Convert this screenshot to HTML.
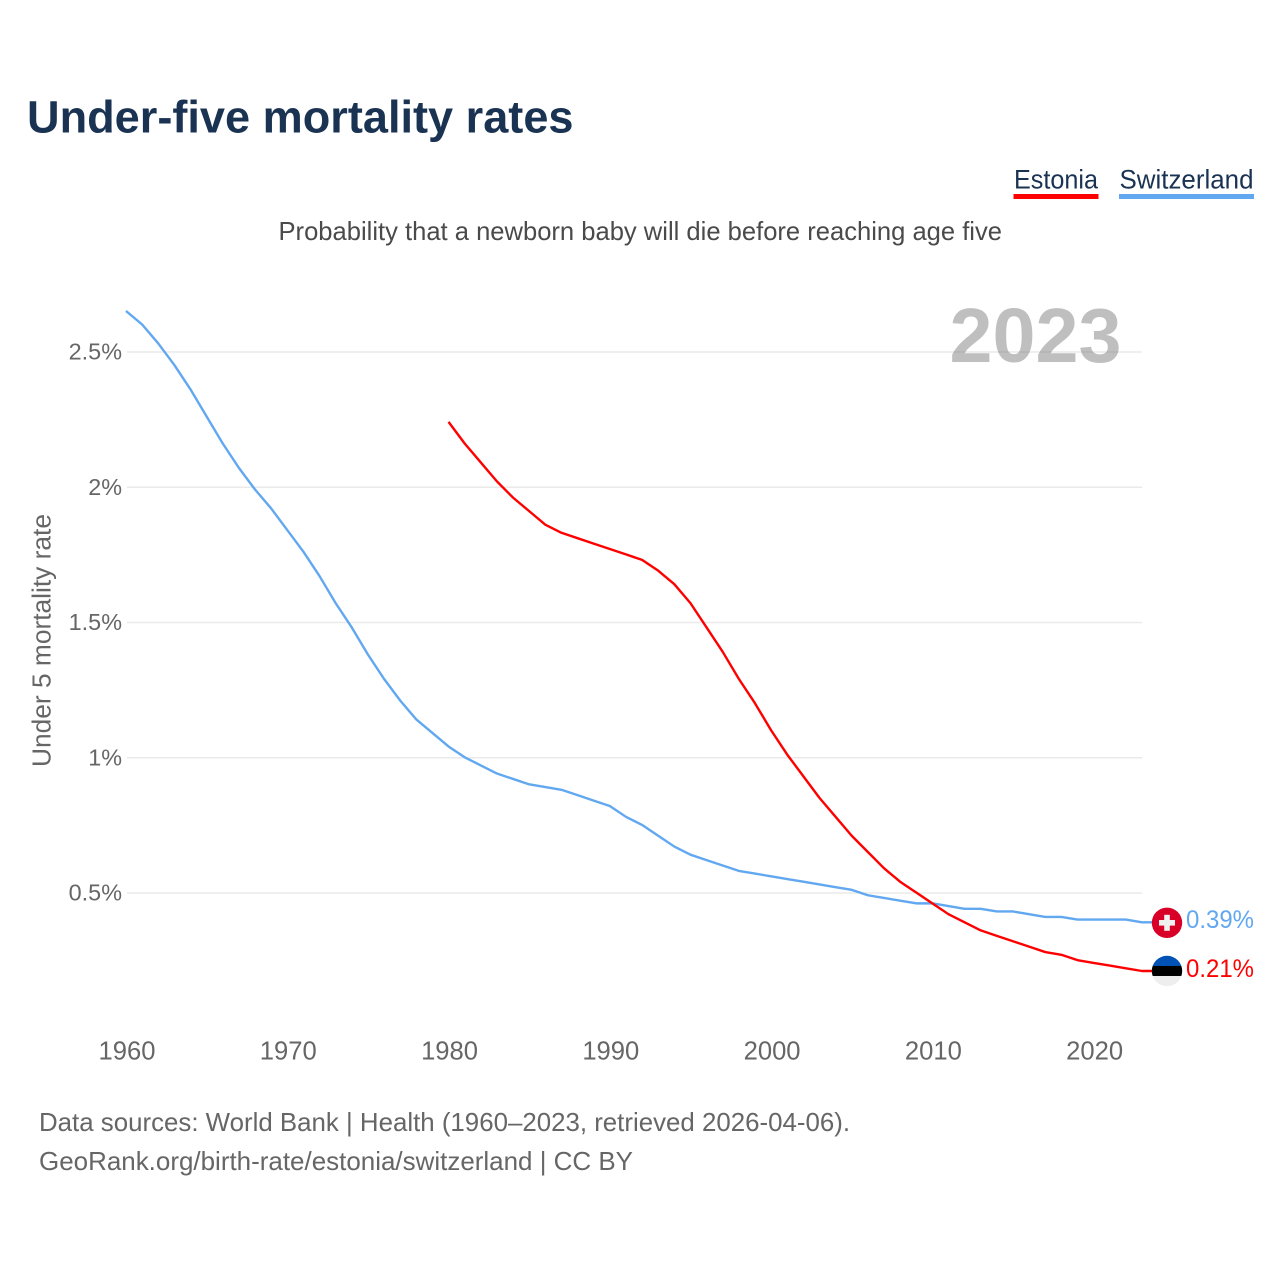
<!DOCTYPE html>
<html lang="en">
<head>
<meta charset="utf-8">
<title>Under-five mortality rates</title>
<style>
html,body{margin:0;padding:0;background:#fff;width:1280px;height:1280px;overflow:hidden}
svg{display:block}
text{font-family:"Liberation Sans",sans-serif}
</style>
</head>
<body>
<svg id="chart" xmlns="http://www.w3.org/2000/svg" width="1280" height="1280" viewBox="0 0 1280 1280">
  <rect width="1280" height="1280" fill="#fff"/>
  <text x="27" y="132.5" font-size="45" font-weight="700" fill="#1a3352" textLength="546.5" lengthAdjust="spacingAndGlyphs">Under-five mortality rates</text>

  <g>
    <text x="1014" y="188.3" font-size="26.5" fill="#1a3352" textLength="84" lengthAdjust="spacingAndGlyphs">Estonia</text>
    <rect x="1013.5" y="194" width="85" height="5" fill="#ff0000"/>
  </g>
  <g>
    <text x="1119.5" y="188.3" font-size="26.5" fill="#1a3352" textLength="134" lengthAdjust="spacingAndGlyphs">Switzerland</text>
    <rect x="1119" y="194" width="135" height="5" fill="#62a8f0"/>
  </g>

  <text x="278.5" y="240.2" font-size="26" fill="#4a4a4a" textLength="723.5" lengthAdjust="spacingAndGlyphs">Probability that a newborn baby will die before reaching age five</text>

  <g id="grid"></g>
  <text x="949.5" y="362" font-size="77.3" font-weight="700" fill="#666" fill-opacity="0.42">2023</text>

  <g id="y-axis"></g>
  <g id="x-axis"></g>
  <text transform="translate(50.5,767) rotate(-90)" x="0" y="0" font-size="25.5" fill="#666" textLength="253" lengthAdjust="spacingAndGlyphs">Under 5 mortality rate</text>

  <g id="series"></g>
  <g id="end-markers"></g>

  <text x="39" y="1131.2" font-size="26" fill="#666" textLength="811" lengthAdjust="spacingAndGlyphs">Data sources: World Bank | Health (1960–2023, retrieved 2026-04-06).</text>
  <text x="39" y="1170.2" font-size="26" fill="#666" textLength="594" lengthAdjust="spacingAndGlyphs">GeoRank.org/birth-rate/estonia/switzerland | CC BY</text>
</svg>

<script>
const xTicks = [1960, 1970, 1980, 1990, 2000, 2010, 2020];
const yTicks = [0.5, 1, 1.5, 2, 2.5];
const yTickLabels = ['0.5%', '1%', '1.5%', '2%', '2.5%'];

const switzerlandStart = 1960;
const switzerlandValues = [
  2.65, 2.60, 2.53, 2.45, 2.36, 2.26, 2.16, 2.07, 1.99, 1.92,
  1.84, 1.76, 1.67, 1.57, 1.48, 1.38, 1.29, 1.21, 1.14, 1.09,
  1.04, 1.00, 0.97, 0.94, 0.92, 0.90, 0.89, 0.88, 0.86, 0.84,
  0.82, 0.78, 0.75, 0.71, 0.67, 0.64, 0.62, 0.60, 0.58, 0.57,
  0.56, 0.55, 0.54, 0.53, 0.52, 0.51, 0.49, 0.48, 0.47, 0.46,
  0.46, 0.45, 0.44, 0.44, 0.43, 0.43, 0.42, 0.41, 0.41, 0.40,
  0.40, 0.40, 0.40, 0.39
];

const estoniaStart = 1980;
const estoniaValues = [
  2.24, 2.16, 2.09, 2.02, 1.96, 1.91, 1.86, 1.83, 1.81, 1.79,
  1.77, 1.75, 1.73, 1.69, 1.64, 1.57, 1.48, 1.39, 1.29, 1.20,
  1.10, 1.01, 0.93, 0.85, 0.78, 0.71, 0.65, 0.59, 0.54, 0.50,
  0.46, 0.42, 0.39, 0.36, 0.34, 0.32, 0.30, 0.28, 0.27, 0.25,
  0.24, 0.23, 0.22, 0.21
];

const NS = 'http://www.w3.org/2000/svg';
function xScale(year) { return 126 + (year - 1960) * 16.127; }
function yScale(value) { return 1027.8 - value * 270.5; }
function make(tag, parent, attrs) {
  const el = document.createElementNS(NS, tag);
  for (const k in attrs) el.setAttribute(k, attrs[k]);
  parent.appendChild(el);
  return el;
}

const grid = document.getElementById('grid');
const yAxis = document.getElementById('y-axis');
const xAxis = document.getElementById('x-axis');
const seriesGroup = document.getElementById('series');
const markers = document.getElementById('end-markers');

yTicks.forEach(function (v, i) {
  const gy = 1028.25 - v * 270.5;
  const line = make('line', grid, {x1: 127, x2: 1142, y1: gy, y2: gy, stroke: '#eaeaea', 'stroke-width': 1.6});
  
  
  const label = make('text', yAxis, {x: 122, y: gy + 7.5, 'text-anchor': 'end', 'font-size': 23.4, fill: '#666'});
  label.textContent = yTickLabels[i];
  
  
});

xTicks.forEach(function (year) {
  const label = make('text', xAxis, {x: xScale(year) + 1, y: 1059.3, 'text-anchor': 'middle', 'font-size': 25.6, fill: '#666'});
  label.textContent = String(year);
  
  
});

function drawSeries(values, start, color) {
  let d = '';
  values.forEach(function (v, i) {
    d += (i ? 'L' : 'M') + xScale(start + i).toFixed(2) + ' ' + yScale(v).toFixed(2);
  });
  const last = values[values.length - 1];
  d += 'L1152 ' + yScale(last).toFixed(2);
  return make('path', seriesGroup, {d: d, fill: 'none', stroke: color, 'stroke-width': 2.4, 'stroke-linejoin': 'round'});
}

const swissLine = drawSeries(switzerlandValues, switzerlandStart, '#62a8f0');


const estoniaLine = drawSeries(estoniaValues, estoniaStart, '#ff0000');



const swissLast = switzerlandValues[switzerlandValues.length - 1];
const estoniaLast = estoniaValues[estoniaValues.length - 1];
const cx = 1167;
const swissY = yScale(swissLast);
const estY = yScale(estoniaLast);

const swissFlag = make('g', markers, {});


make('circle', swissFlag, {cx: cx, cy: swissY + 0.5, r: 15.2, fill: '#d80027'});
make('rect', swissFlag, {x: cx - 8, y: swissY - 2.3, width: 16, height: 5.6, fill: '#f0f0f0'});
make('rect', swissFlag, {x: cx - 2.8, y: swissY - 7.5, width: 5.6, height: 16, fill: '#f0f0f0'});

const defs = make('defs', markers, {});
const clip = make('clipPath', defs, {id: 'est-clip'});
make('circle', clip, {cx: cx, cy: estY, r: 15.2});
const estFlag = make('g', markers, {'clip-path': 'url(#est-clip)'});


make('rect', estFlag, {x: cx - 16, y: estY - 16, width: 32, height: 11, fill: '#0052b4'});
make('rect', estFlag, {x: cx - 16, y: estY - 5, width: 32, height: 10, fill: '#000'});
make('rect', estFlag, {x: cx - 16, y: estY + 5, width: 32, height: 11, fill: '#eeeeee'});

const swissValue = make('text', markers, {x: 1186, y: swissY + 5.9, 'font-size': 25, fill: '#62a8f0', textLength: 68, lengthAdjust: 'spacingAndGlyphs'});
swissValue.textContent = swissLast.toFixed(2) + '%';


const estValue = make('text', markers, {x: 1186, y: estY + 6, 'font-size': 25, fill: '#ff0000', textLength: 68, lengthAdjust: 'spacingAndGlyphs'});
estValue.textContent = estoniaLast.toFixed(2) + '%';


</script>
</body>
</html>
